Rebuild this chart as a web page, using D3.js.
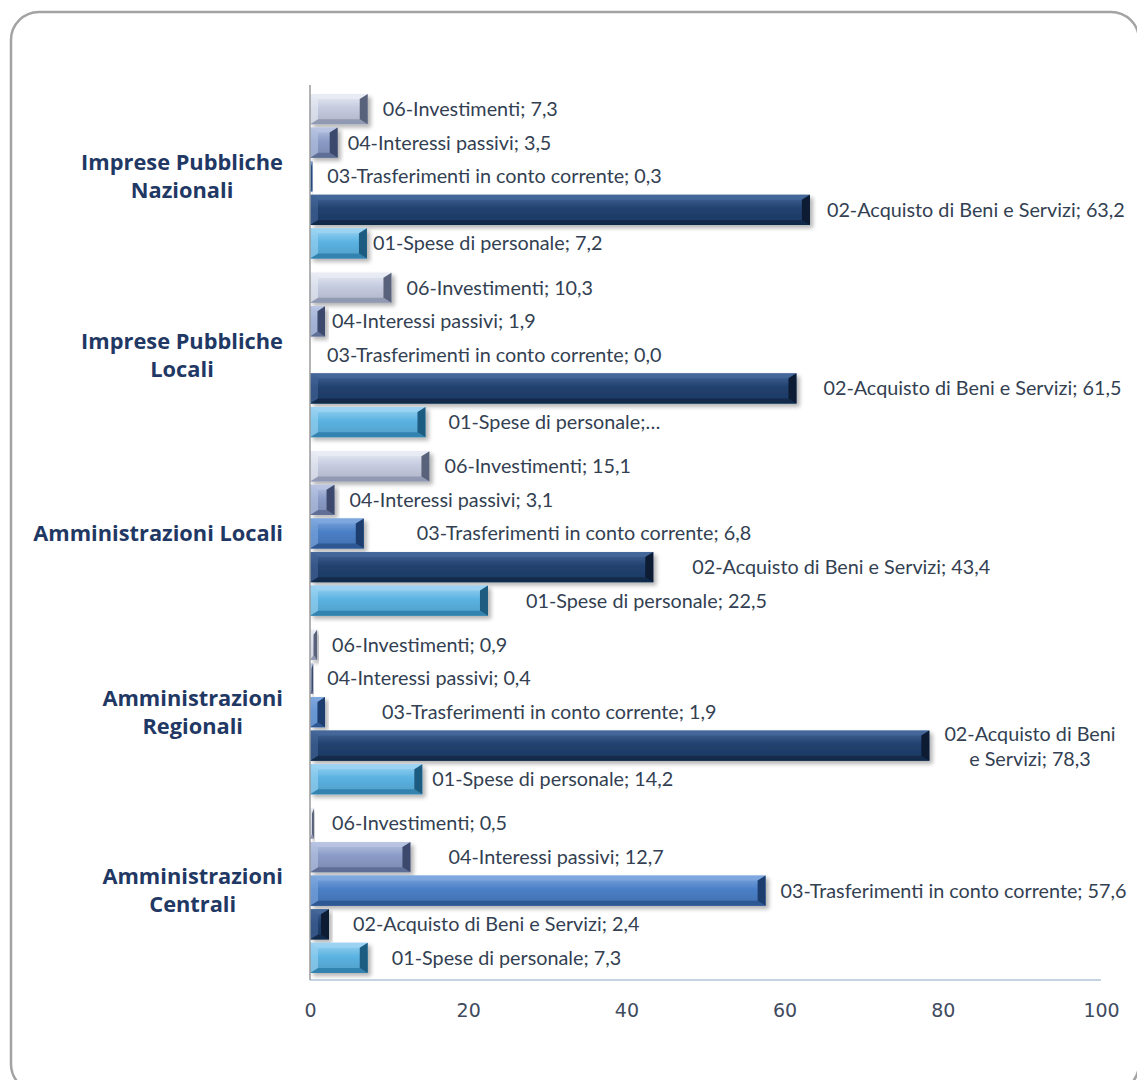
<!DOCTYPE html>
<html>
<head>
<meta charset="utf-8">
<script src="https://cdn.jsdelivr.net/npm/d3@7"></script>
<style>
  html, body { margin: 0; padding: 0; background: #fff; }
  #chart { width: 1137px; height: 1080px; }
</style>
</head>
<body>
<div id="chart"></div>
<script>
// categories, top to bottom
const groups = ["Imprese Pubbliche Nazionali", "Imprese Pubbliche Locali", "Amministrazioni Locali", "Amministrazioni Regionali", "Amministrazioni Centrali"];
const groupLines = [["Imprese Pubbliche", "Nazionali"], ["Imprese Pubbliche", "Locali"], ["Amministrazioni Locali"], ["Amministrazioni", "Regionali"], ["Amministrazioni", "Centrali"]];

// series, top to bottom inside each group
const seriesNames = ["06-Investimenti", "04-Interessi passivi", "03-Trasferimenti in conto corrente", "02-Acquisto di Beni e Servizi", "01-Spese di personale"];
const investimenti  = [7.3, 10.3, 15.1, 0.9, 0.5];
const interessi     = [3.5, 1.9, 3.1, 0.4, 12.7];
const trasferimenti = [0.3, 0.0, 6.8, 1.9, 57.6];
const acquisto      = [63.2, 61.5, 43.4, 78.3, 2.4];
const personale     = [7.2, 14.6, 22.5, 14.2, 7.3];

const xTicks = [0, 20, 40, 60, 80, 100];

const seriesValues = [investimenti, interessi, trasferimenti, acquisto, personale];

// face / light / dark / end colours per series
const palette = [
    {face: "#c6cce0", light: "#e9ecf5", dark: "#8d96b0", end: "#59627a"},
    {face: "#8a9bc6", light: "#b8c4e2", dark: "#5b6a92", end: "#3e4a6c"},
    {face: "#4a7fc6", light: "#7fa8de", dark: "#2c5590", end: "#1d3e6e"},
    {face: "#21416f", light: "#45679a", dark: "#112848", end: "#0a1a33"},
    {face: "#5bb3e2", light: "#9dd4f2", dark: "#2f7fac", end: "#1f5b80"}
];

// label gap after bar end, px (hand-placed labels in the original)
const labelGap = [
    [15, 10, 15, 17, 6],
    [15, 7, 17, 27, 23],
    [15, 15, 53, 39, 38],
    [15, 14, 57, 0, 10],
    [18, 38, 15, 24, 24]
];

const W = 1137, H = 1080;
const margin = {top: 87, right: 36, bottom: 100, left: 310};

const svg = d3.select("#chart").append("svg")
    .attr("width", W)
    .attr("height", H);

// rounded frame
svg.append("rect")
    .attr("x", 11).attr("y", 12)
    .attr("width", 1128).attr("height", 1080)
    .attr("rx", 28).attr("ry", 28)
    .attr("fill", "#fff")
    .attr("stroke", "#a3a3a3")
    .attr("stroke-width", 2.5);

const defs = svg.append("defs");
const shadow = defs.append("filter").attr("id", "shadow")
    .attr("x", "-10%").attr("y", "-30%").attr("width", "130%").attr("height", "180%");
shadow.append("feGaussianBlur").attr("in", "SourceAlpha").attr("stdDeviation", 2);
shadow.append("feOffset").attr("dx", 3).attr("dy", 3).attr("result", "b");
shadow.append("feComponentTransfer").append("feFuncA").attr("type", "linear").attr("slope", 0.3);
const merge = shadow.append("feMerge");
merge.append("feMergeNode");
merge.append("feMergeNode").attr("in", "SourceGraphic");

palette.forEach((p, i) => {
    const g = defs.append("linearGradient").attr("id", "face" + i)
        .attr("x1", 0).attr("y1", 0).attr("x2", 0).attr("y2", 1);
    g.append("stop").attr("offset", "0%").attr("stop-color", p.light);
    g.append("stop").attr("offset", "45%").attr("stop-color", p.face);
    g.append("stop").attr("offset", "100%").attr("stop-color", d3.color(p.face).darker(0.35));
});

const plotBottom = 980;

const x = d3.scaleLinear().domain([0, 100]).range([margin.left, margin.left + 791]);
const y0 = d3.scaleBand().domain(groups).range([margin.top, plotBottom]).paddingInner(0.06).paddingOuter(0.03);
const y1 = d3.scaleBand().domain(seriesNames).range([0, y0.bandwidth()]).paddingInner(0.1).paddingOuter(0.05);

const fmt = v => d3.format(".1f")(v).replace(".", ",");

// flat list of bars
const bars = [];
groups.forEach((g, gi) => {
    seriesNames.forEach((s, si) => {
        bars.push({group: g, gi: gi, series: s, si: si, value: seriesValues[si][gi]});
    });
});

// bevelled bar shapes
const barG = svg.append("g").attr("class", "bars");
bars.forEach(d => {
    const xa = x(0), xb = x(d.value);
    const ya = y0(d.group) + y1(d.series), h = y1.bandwidth();
    const w = xb - xa;
    if (w < 0.5) return;
    const p = palette[d.si];
    const bx = Math.min(8, w / 2), by = Math.min(5, h / 2);
    const g = barG.append("g").attr("filter", "url(#shadow)");
    g.append("rect").attr("x", xa).attr("y", ya).attr("width", w).attr("height", h)
        .attr("fill", "url(#face" + d.si + ")");
    const poly = pts => g.append("polygon").attr("points", pts.map(q => q.join(",")).join(" "));
    poly([[xa, ya], [xb, ya], [xb - bx, ya + by], [xa + bx, ya + by]]).attr("fill", p.light).attr("opacity", 0.85);
    poly([[xa, ya + h], [xb, ya + h], [xb - bx, ya + h - by], [xa + bx, ya + h - by]]).attr("fill", p.dark).attr("opacity", 0.9);
    poly([[xa, ya], [xa + bx, ya + by], [xa + bx, ya + h - by], [xa, ya + h]]).attr("fill", p.light).attr("opacity", 0.6);
    poly([[xb, ya], [xb - bx, ya + by], [xb - bx, ya + h - by], [xb, ya + h]]).attr("fill", p.end);
});

// axes
svg.append("line")
    .attr("x1", x(0)).attr("x2", x(100))
    .attr("y1", plotBottom).attr("y2", plotBottom)
    .attr("stroke", "#c6d3e3").attr("stroke-width", 2);

svg.append("line")
    .attr("x1", x(0)).attr("x2", x(0))
    .attr("y1", margin.top - 2).attr("y2", plotBottom)
    .attr("stroke", "#9a9a9a").attr("stroke-width", 1.5);

const xAxis = d3.axisBottom(x).tickValues(xTicks).tickSize(0).tickPadding(24);
svg.append("g")
    .attr("transform", "translate(0," + plotBottom + ")")
    .call(xAxis)
    .call(g => g.select(".domain").remove())
    .selectAll("text")
    .attr("font-size", 19)
    .attr("font-family", "'DejaVu Sans', sans-serif")
    .attr("fill", "#404b5e");

// category labels: block right-aligned, lines centred
const catG = svg.append("g").attr("font-family", "'Open Sans', sans-serif");
const probe = catG.append("text").attr("font-size", 20).attr("font-weight", "bold")
    .text("Amministrazioni Locali");
const catSize = 20 * 250 / probe.node().getComputedTextLength();
probe.remove();

groups.forEach((g, gi) => {
    const lines = groupLines[gi];
    const cy = y0(g) + y0.bandwidth() / 2;
    const t = catG.append("text")
        .attr("font-size", catSize).attr("font-weight", "bold")
        .attr("fill", "#1f3864")
        .attr("text-anchor", "middle");
    lines.forEach((l, li) => {
        t.append("tspan").attr("x", 0)
            .attr("y", cy + (li - (lines.length - 1) / 2) * 28)
            .attr("dy", "0.35em").text(l);
    });
    const bw = t.node().getBBox().width;
    t.attr("transform", "translate(" + (283 - bw / 2) + ",0)");
});

// data labels
const labG = svg.append("g").attr("font-family", "Lato, sans-serif");
bars.forEach(d => {
    const cy = y0(d.group) + y1(d.series) + y1.bandwidth() / 2;
    const t = labG.append("text")
        .attr("font-size", 19.8)
        .attr("fill", "#333f52");
    if (d.si === 3 && d.gi === 3) {
        // wrapped label to the right of the long bar
        t.attr("text-anchor", "middle");
        ["02-Acquisto di Beni", "e Servizi; " + fmt(d.value)].forEach((l, li) => {
            t.append("tspan").attr("x", 1030).attr("y", cy - 12 + li * 25).attr("dy", "0.35em").text(l);
        });
    } else {
        const txt = (d.si === 4 && d.gi === 1) ? d.series + ";…" : d.series + "; " + fmt(d.value);
        t.attr("x", x(d.value) + labelGap[d.gi][d.si])
            .attr("y", cy).attr("dy", "0.35em")
            .text(txt);
    }
});
</script>
</body>
</html>
